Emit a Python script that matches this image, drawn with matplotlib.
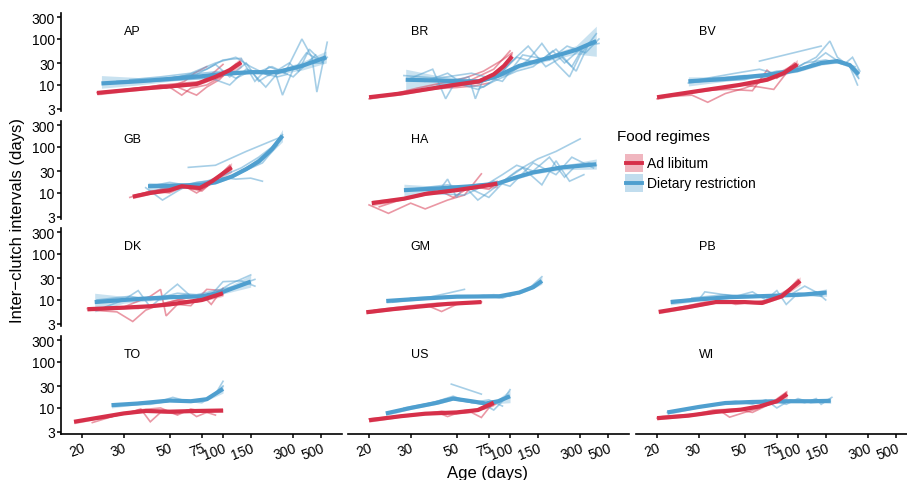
import numpy as np
import matplotlib
matplotlib.use("Agg")
import matplotlib.pyplot as plt
from matplotlib.patches import Rectangle
from matplotlib.lines import Line2D
from matplotlib.ticker import FixedLocator, NullLocator

plt.rcParams['font.family'] = ['Liberation Sans', 'DejaVu Sans']

# ---- data ----
# fits: (age, fit, lower, upper); tracks: list of [(age, interval), ...]
age_ticks = [20, 30, 50, 75, 100, 150, 300, 500]
int_ticks = [3, 10, 30, 100, 300]

ap_al_fit = [(23, 6.7, 6.0, 7.5), (30, 7.6, 7.0, 8.3), (40, 8.6, 8.0, 9.3), (50, 9.3, 8.6, 10),
             (70, 10.5, 9.6, 11.5), (90, 15, 13.5, 16.8), (110, 21, 18, 25), (130, 31, 24, 40)]
ap_dr_fit = [(24, 10.8, 8.5, 16), (35, 12, 10, 14.5), (50, 13.5, 12, 15), (75, 15.5, 14, 17),
             (100, 17.5, 16, 19), (150, 19, 17.5, 21), (230, 19, 17, 21.5), (350, 26, 21, 32),
             (550, 40, 30, 55)]
ap_al_ind = [[(24, 6.5), (30, 7.5), (40, 8.5), (50, 9), (58, 6), (65, 8.5), (80, 10), (100, 16), (120, 28)],
             [(25, 7), (35, 8), (45, 10), (55, 9), (70, 6), (80, 9), (95, 13), (110, 22)],
             [(23, 6.8), (32, 8.2), (42, 9.5), (52, 10.5), (60, 11), (75, 12), (90, 20), (100, 28)],
             [(26, 7.2), (38, 9), (48, 8.5), (60, 12), (68, 18), (80, 25)]]
ap_dr_ind = [[(30, 11), (45, 13), (60, 16), (80, 22), (100, 35), (130, 38), (160, 12), (200, 25),
              (260, 18), (350, 100), (420, 40), (460, 7), (560, 85)],
             [(35, 12), (50, 14), (70, 17), (90, 28), (110, 15), (140, 30), (170, 12), (220, 20),
              (250, 6), (300, 22), (400, 30), (500, 30), (560, 40)],
             [(28, 12), (40, 13), (55, 15), (75, 18), (100, 20), (120, 14), (150, 20), (190, 9),
              (240, 21), (320, 25), (380, 50), (480, 35)],
             [(40, 12), (60, 13), (85, 14), (110, 10), (140, 22), (180, 18), (230, 15), (270, 17)],
             [(32, 13), (45, 15), (65, 18), (90, 30), (120, 40), (150, 25), (200, 16), (280, 30),
              (330, 20), (400, 60), (520, 30)],
             [(26, 11), (40, 12), (60, 14), (85, 16), (110, 20), (160, 18), (210, 25), (300, 15), (450, 45)]]

br_al_fit = [(20, 5.4, 4.9, 6), (27, 6.5, 6, 7), (33, 7.6, 7.1, 8.1), (47, 9.8, 9.2, 10.4),
             (66, 12, 11, 13), (80, 17, 15, 19), (92, 26, 22, 30), (103, 42, 34, 52)]
br_dr_fit = [(28.5, 13, 7.5, 22), (40, 12.5, 9.5, 16), (55, 12, 10.5, 14), (66, 12, 11, 13.5),
             (85, 16, 14.5, 18), (114, 26, 23, 29), (185, 40, 35, 46), (280, 58, 47, 72),
             (400, 90, 42, 190)]
br_al_ind = [[(20, 5), (30, 7), (45, 10), (60, 13), (80, 22), (100, 55)],
             [(22, 5.8), (35, 8), (50, 9.5), (65, 11), (80, 14), (95, 30), (102, 45)],
             [(24, 6), (32, 8.5), (42, 11), (55, 14), (70, 20), (90, 35), (103, 50)],
             [(21, 5.6), (28, 7), (38, 8.2), (50, 8.8), (62, 9.5), (75, 11)]]
br_dr_ind = [[(30, 14), (38, 22), (44, 5), (50, 13), (58, 15), (63, 5), (70, 14), (90, 20), (110, 40),
              (150, 30), (200, 60), (260, 25), (320, 70), (420, 80)],
             [(35, 12), (45, 18), (55, 10), (70, 9), (85, 15), (100, 30), (130, 70), (170, 25),
              (220, 40), (280, 20), (350, 80)],
             [(40, 10), (55, 12), (75, 13), (100, 18), (130, 35), (160, 80), (200, 30), (250, 15),
              (300, 45), (400, 130)],
             [(50, 11), (65, 8), (80, 12), (110, 20), (140, 25), (190, 55), (230, 30), (300, 60)],
             [(28, 16), (40, 14), (60, 18), (90, 12), (120, 45), (180, 35), (240, 70), (330, 50), (420, 100)]]

bv_al_fit = [(20, 5.4, 4.8, 6.1), (30, 7.4, 6.9, 8), (47, 10, 9.3, 10.8), (66, 13, 12, 14),
             (82, 18, 16, 20.5), (99, 28, 22, 36)]
bv_dr_fit = [(27, 12, 9.5, 15), (40, 13.5, 12, 15), (66, 16.5, 15, 18), (99, 21, 19, 23),
             (140, 30, 27, 33), (180, 33, 30, 36), (220, 27, 24, 30), (255, 17, 13, 22)]
bv_al_ind = [[(21, 5.5), (28, 6), (33, 4.2), (40, 6.5), (50, 8.5), (66, 13), (90, 25)],
             [(20, 5), (30, 7.5), (42, 8), (55, 7.5), (66, 21), (75, 14), (95, 30)],
             [(23, 6), (35, 8.5), (48, 10), (60, 9), (72, 8), (85, 18), (100, 28)]]
bv_dr_ind = [[(30, 13), (45, 18), (60, 22), (80, 16), (100, 25), (130, 40), (160, 90), (180, 40),
              (220, 25), (250, 10)],
             [(60, 33), (140, 70)],
             [(27, 11), (40, 14), (55, 15), (70, 17), (90, 19), (110, 30), (150, 35), (200, 28),
              (230, 40), (260, 20)],
             [(35, 14), (50, 16), (65, 14), (85, 18), (120, 25), (170, 33), (210, 30), (255, 14)],
             [(30, 12), (50, 13), (75, 20), (110, 22), (150, 50), (190, 30), (240, 25)]]

gb_al_fit = [(33, 8.3, 7.5, 9.3), (40, 10, 9.3, 10.8), (50, 11.5, 10.5, 12.5), (58, 14, 13, 15),
             (73, 12.8, 11.8, 14), (86, 18, 16, 20), (113, 36, 28, 46)]
gb_dr_fit = [(39, 14, 11, 17), (55, 14.5, 13, 16), (73, 15, 14, 16.3), (90, 17, 15.8, 18.5),
             (114, 23, 21.5, 25), (140, 33, 30.5, 36), (171, 49, 45, 54), (210, 90, 78, 105),
             (250, 175, 130, 240)]
gb_al_ind = [[(32, 8), (40, 11), (50, 10), (60, 14), (70, 10), (85, 16), (110, 40)],
             [(34, 9), (45, 12), (55, 15), (65, 12.5), (80, 14), (100, 28)],
             [(35, 8.5), (42, 10), (52, 12), (62, 13), (75, 11), (90, 20), (112, 35)]]
gb_dr_ind = [[(38, 13), (46, 7), (55, 11), (65, 16), (80, 18), (100, 24), (130, 35), (170, 60),
              (210, 100), (250, 185)],
             [(63, 36), (90, 40), (140, 80), (250, 170)],
             [(40, 14), (50, 17), (60, 15), (75, 14), (95, 22), (120, 20), (150, 21), (180, 18)],
             [(45, 12), (60, 13), (80, 16), (110, 22), (150, 40), (200, 80), (240, 150)],
             [(42, 11), (55, 13), (70, 17), (100, 20), (130, 28), (180, 45), (230, 110)]]

ha_al_fit = [(20.5, 6, 5.2, 7), (28, 7.5, 7, 8.2), (35, 9.5, 9, 10), (50, 11.5, 11, 12.2),
             (65, 13.5, 12.5, 14.5), (84, 16, 13, 19.5)]
ha_dr_fit = [(28, 11.5, 8.5, 15.5), (40, 12.5, 11, 14), (60, 14, 13, 15.2), (84, 16, 15, 17.2),
             (110, 22, 20, 24), (140, 28, 25.5, 31), (220, 36, 32, 40), (400, 42, 33, 55)]
ha_al_ind = [[(20, 5.5), (24, 3.6), (30, 6), (35, 4.5), (45, 7), (55, 9), (68, 26)],
             [(21, 6), (30, 8), (40, 12), (48, 8), (60, 14), (75, 12), (84, 17)],
             [(22, 5), (28, 7.5), (38, 10), (50, 13), (62, 15), (80, 16)]]
ha_dr_ind = [[(40, 10), (45, 20), (50, 8), (55, 14), (65, 7), (85, 15), (110, 30), (150, 55),
              (200, 80), (300, 150)],
             [(30, 12), (45, 15), (60, 12), (75, 8), (95, 20), (120, 35), (160, 15), (200, 50),
              (250, 18), (320, 25)],
             [(50, 12), (70, 14), (90, 25), (110, 40), (140, 30), (180, 60), (230, 22), (280, 40),
              (350, 45), (400, 40)],
             [(35, 10), (55, 9), (80, 18), (100, 14), (140, 45), (200, 25), (260, 60), (380, 35)]]

dk_al_fit = [(21, 6.3, 5.7, 7), (30, 6.8, 6.3, 7.3), (40, 7.3, 6.9, 7.8), (50, 8, 7.5, 8.6),
             (75, 10, 9.2, 11), (100, 14, 12, 16.5)]
dk_dr_fit = [(22.5, 9, 5.5, 14), (30, 10, 8.5, 12), (50, 11.5, 10.5, 12.5), (75, 12, 11, 13.2),
             (100, 15, 13.5, 17), (150, 25, 19, 35)]
dk_al_ind = [[(22, 6), (28, 5.5), (33, 3.4), (38, 6), (45, 8), (55, 10), (70, 9), (90, 13)],
             [(21, 6.5), (30, 7), (40, 12), (45, 17), (48, 4.5), (55, 8), (65, 7.5), (80, 17), (100, 16)],
             [(25, 7), (35, 6.5), (50, 9), (62, 11), (75, 13), (85, 8), (100, 18)]]
dk_dr_ind = [[(23, 6), (30, 10), (35, 16), (40, 7), (50, 16), (55, 22), (65, 12), (80, 10),
              (100, 25), (130, 26), (160, 20)],
             [(28, 9), (35, 11), (45, 10), (60, 13), (75, 11), (90, 14), (110, 22), (150, 35)],
             [(23, 10), (32, 12), (40, 10), (55, 14), (70, 13), (90, 16), (120, 20), (160, 28)]]

gm_al_fit = [(19.5, 5.4, 5, 5.9), (25, 6.3, 5.9, 6.7), (33, 7.2, 6.9, 7.6), (45, 8.2, 7.8, 8.6),
             (68, 9, 8.4, 9.7)]
gm_dr_fit = [(23.5, 9.5, 8.5, 10.6), (35, 10.8, 10.2, 11.4), (50, 11.8, 11.2, 12.4),
             (86, 12, 11.3, 12.8), (114, 14.5, 13.5, 15.5), (140, 19, 17.5, 21), (160, 26, 22, 32)]
gm_al_ind = [[(20, 5.3), (28, 6.8), (36, 7.5), (42, 5.6), (50, 8), (68, 9)],
             [(21, 6), (30, 7.5), (40, 8.5), (55, 8.6), (68, 9.2)]]
gm_dr_ind = [[(25, 9), (35, 11), (45, 14), (55, 17)],
             [(30, 11), (45, 12), (60, 12), (80, 13), (100, 12), (130, 17), (160, 32)],
             [(24, 9.5), (40, 11), (55, 11.5), (70, 12.5), (90, 11), (110, 14), (140, 18), (160, 24)]]

pb_al_fit = [(20.3, 5.5, 5, 6), (27, 7, 6.5, 7.5), (36, 9, 8.5, 9.6), (50, 9, 8.5, 9.6),
             (62, 8.6, 8, 9.3), (80, 12, 11, 13.2), (103, 26, 21, 32)]
pb_dr_fit = [(22.7, 9, 7.8, 10.4), (30, 10.3, 9.5, 11.2), (42, 11.5, 10.8, 12.2), (70, 12.3, 11.6, 13),
             (110, 13.2, 12.2, 14.3), (152, 14.5, 12, 17.5)]
pb_al_ind = [[(21, 5.5), (30, 8), (40, 9.5), (45, 8), (55, 9), (70, 10), (85, 15), (100, 28)],
             [(22, 6), (32, 9), (42, 9), (52, 8.5), (65, 9.5), (80, 14), (103, 24)]]
pb_dr_ind = [[(30, 10), (32, 15), (45, 12), (55, 15), (65, 10), (75, 16), (85, 8), (100, 14),
              (120, 13), (140, 12), (150, 15)],
             [(24, 9.5), (35, 11), (50, 12.5), (70, 11), (90, 13), (110, 20), (140, 13)],
             [(28, 11), (40, 13), (60, 11.5), (80, 12), (100, 12), (130, 15), (150, 10)]]

to_al_fit = [(18.6, 5, 4.5, 5.5), (24, 6.3, 5.9, 6.7), (30, 7.6, 7.2, 8), (38, 8.6, 8.1, 9.1),
             (50, 8.3, 7.8, 8.8), (70, 8.6, 8, 9.2), (100, 8.8, 8, 9.8)]
to_dr_fit = [(26.5, 11.5, 10, 13), (35, 12.5, 11.8, 13.3), (50, 14.5, 13.8, 15.3), (65, 14, 13.2, 14.8),
             (80, 15.5, 14.5, 16.5), (100, 26, 21, 32)]
to_al_ind = [[(19, 5.2), (25, 6), (32, 8), (36, 9.5), (40, 5), (45, 8), (55, 7.5), (62, 9),
              (70, 6.5), (80, 8), (90, 7)],
             [(22, 4.8), (28, 7), (35, 9), (45, 10), (55, 7), (65, 9.5), (80, 8), (95, 9)]]
to_dr_ind = [[(27, 11), (35, 13), (45, 14), (52, 17), (62, 14), (75, 13), (90, 20), (100, 38)],
             [(28, 12), (40, 12), (55, 15), (70, 14), (85, 17), (100, 30)]]

us_al_fit = [(20, 5.4, 4.9, 6), (27, 6.6, 6.2, 7), (35, 7.5, 7.1, 7.9), (50, 8, 7.6, 8.4),
             (65, 9, 8.4, 9.6), (80, 13, 11, 15)]
us_dr_fit = [(23.4, 7.6, 6.8, 8.5), (30, 10, 9.3, 10.8), (40, 13, 12, 14), (48, 16, 14.8, 17.2),
             (60, 14, 13, 15), (72, 12.5, 11.5, 13.6), (85, 14, 12.5, 15.8), (100, 18, 13, 25)]
us_al_ind = [[(21, 5.5), (28, 7), (35, 7.5), (42, 8.5), (50, 7.5), (60, 8), (68, 6.2), (75, 10), (80, 13)],
             [(20, 5.8), (30, 7), (40, 8), (45, 6.5), (55, 8.8), (70, 9.5), (82, 12)]]
us_dr_ind = [[(47, 33), (68, 20)],
             [(24, 8), (35, 12), (45, 16), (55, 14), (70, 12), (80, 9), (90, 14), (100, 25)],
             [(28, 10), (38, 13), (48, 18), (60, 13), (75, 15), (90, 11)]]

wi_al_fit = [(20, 6, 5.5, 6.5), (27, 6.8, 6.4, 7.2), (36, 8.2, 7.8, 8.6), (48, 9.2, 8.8, 9.7),
             (60, 10.8, 10.2, 11.5), (75, 14, 13, 15.2), (86, 20, 16, 25)]
wi_dr_fit = [(22, 8, 7.2, 8.8), (30, 10.5, 10, 11), (40, 12.8, 12.2, 13.4), (55, 13.5, 13, 14.1),
             (86, 14, 13.4, 14.6), (120, 14, 13.2, 14.8), (162, 14.3, 12.5, 16.5)]
wi_al_ind = [[(21, 6.5), (30, 7.5), (38, 8.5), (42, 6.3), (50, 8), (58, 9.5), (70, 13), (85, 22)],
             [(20, 6), (28, 7), (35, 9), (45, 9.5), (55, 8), (65, 11), (80, 17)]]
wi_dr_ind = [[(25, 9), (35, 12), (45, 14), (55, 12), (65, 15), (75, 10), (90, 15), (110, 13),
              (130, 16), (140, 12), (165, 17)],
             [(22, 8), (32, 11), (42, 13), (58, 14), (70, 15), (85, 12), (100, 16), (120, 13), (160, 14)]]

layout = [["AP", "BR", "BV"], ["GB", "HA", None], ["DK", "GM", "PB"], ["TO", "US", "WI"]]
panel_data = {
    "AP": (ap_al_fit, ap_dr_fit, ap_al_ind, ap_dr_ind),
    "BR": (br_al_fit, br_dr_fit, br_al_ind, br_dr_ind),
    "BV": (bv_al_fit, bv_dr_fit, bv_al_ind, bv_dr_ind),
    "GB": (gb_al_fit, gb_dr_fit, gb_al_ind, gb_dr_ind),
    "HA": (ha_al_fit, ha_dr_fit, ha_al_ind, ha_dr_ind),
    "DK": (dk_al_fit, dk_dr_fit, dk_al_ind, dk_dr_ind),
    "GM": (gm_al_fit, gm_dr_fit, gm_al_ind, gm_dr_ind),
    "PB": (pb_al_fit, pb_dr_fit, pb_al_ind, pb_dr_ind),
    "TO": (to_al_fit, to_dr_fit, to_al_ind, to_dr_ind),
    "US": (us_al_fit, us_dr_fit, us_al_ind, us_dr_ind),
    "WI": (wi_al_fit, wi_dr_fit, wi_al_ind, wi_dr_ind),
}

RED = "#d6304a"
BLUE = "#4f9fcf"
W, H = 907, 481


def fwd(x):
    x = np.asarray(x, float)
    with np.errstate(all="ignore"):
        return np.log10(np.log10(x))


def inv(y):
    return 10 ** (10 ** np.asarray(y, float))


fig = plt.figure(figsize=(W / 100, H / 100), dpi=100)

col_left = [61, 348, 636]
row_top = [14.4, 122.4, 229.4, 337.4]
pw, ph = 281, 97.7

for r, row in enumerate(layout):
    for c, name in enumerate(row):
        if name is None:
            continue
        ax = fig.add_axes([col_left[c] / W, 1 - (row_top[r] + ph) / H, pw / W, ph / H])
        ax.set_xscale("function", functions=(fwd, inv))
        ax.set_yscale("log")
        ax.set_xlim(16.6, 750)
        ax.set_ylim(2.7, 360)
        al_fit, dr_fit, al_ind, dr_ind = panel_data[name]

        for tr in al_ind:
            a = np.array(tr)
            ax.plot(a[:, 0], a[:, 1], color=RED, alpha=0.5, lw=1.2, solid_joinstyle="miter")
        for tr in dr_ind:
            a = np.array(tr)
            ax.plot(a[:, 0], a[:, 1], color=BLUE, alpha=0.5, lw=1.2, solid_joinstyle="miter")
        for fit, col in ((al_fit, RED), (dr_fit, BLUE)):
            f = np.array(fit)
            ax.fill_between(f[:, 0], f[:, 2], f[:, 3], color=col, alpha=0.3, lw=0)
        for fit, col in ((dr_fit, BLUE), (al_fit, RED)):
            f = np.array(fit)
            ax.plot(f[:, 0], f[:, 1], color=col, lw=3.0, solid_capstyle="butt")

        ax.text(30, 150, name, fontsize=9, ha="left", va="center")

        for s in ("top", "right"):
            ax.spines[s].set_visible(False)
        ax.spines["left"].set_visible(c == 0)
        ax.spines["bottom"].set_visible(r == 3)
        for s in ("left", "bottom"):
            ax.spines[s].set_linewidth(1.2)
        ax.tick_params(direction="out", length=3, width=1.1, labelsize=10, colors="black", pad=1.5)

        ax.yaxis.set_major_locator(FixedLocator(int_ticks))
        ax.yaxis.set_minor_locator(NullLocator())
        ax.xaxis.set_major_locator(FixedLocator(age_ticks))
        ax.xaxis.set_minor_locator(NullLocator())
        if c == 0:
            ax.set_yticklabels([str(v) for v in int_ticks])
        else:
            ax.tick_params(axis="y", left=False, labelleft=False)
        if r == 3:
            ax.set_xticklabels([str(v) for v in age_ticks], rotation=20, ha="right",
                               rotation_mode="anchor")
        else:
            ax.tick_params(axis="x", bottom=False, labelbottom=False)

# legend drawn by hand in the empty facet slot
def px(x, y):
    return x / W, 1 - y / H

fig.text(*px(617, 137), "Food regimes", fontsize=11, va="center", ha="left")
for i, (lab, col) in enumerate((("Ad libitum", RED), ("Dietary restriction", BLUE))):
    yc = 164 + 20 * i
    x0, y0 = px(625, yc + 9)
    fig.add_artist(Rectangle((x0, y0), 18 / W, 18 / H, transform=fig.transFigure,
                             color=col, alpha=0.35, lw=0))
    xa, ya = px(626, yc)
    xb, _ = px(642, yc)
    fig.add_artist(Line2D([xa, xb], [ya, ya], transform=fig.transFigure, color=col, lw=2.8))
    fig.text(*px(647, yc), lab, fontsize=10, va="center", ha="left")

fig.text(*px(18, 221), "Inter\u2212clutch intervals (days)", fontsize=12, rotation=90,
         ha="center", va="center")
fig.text(*px(488, 466), "Age (days)", fontsize=12, ha="center", va="top")

fig.savefig("out.png", dpi=100)
